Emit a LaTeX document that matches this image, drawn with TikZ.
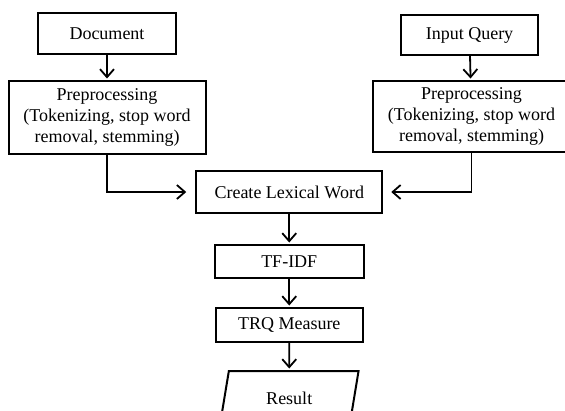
\documentclass[tikz,border=0pt]{standalone}
\usepackage{fontspec}
\setmainfont{Liberation Serif}
\usetikzlibrary{arrows.meta,positioning}
\usetikzlibrary{calc}
\usetikzlibrary{shapes.geometric}

\begin{document}
\begin{tikzpicture}[
      x=1pt, y=1pt,
      mybox/.style={
         rectangle,
         draw=black,
         line width=2pt,
         inner sep=0pt,
         outer sep=0pt,
         align=center,
         font=\fontsize{18}{21}\selectfont},
      myresult/.style={
         mybox,
         trapezium,
         trapezium left angle=75,
         trapezium right angle=105,
         trapezium stretches=true},
      myarrow/.style={-{Straight Barb[length=8pt,width=14pt]},
         line width=1.8pt, shorten >=2.5pt},
      node distance=27pt
      ]
      \useasboundingbox (0,0) rectangle (565,-410);
      \clip (0,0) rectangle (565,-410);

      \node[mybox,minimum width=138pt,minimum height=41pt] (doc) at (107,-33.5) {Document};
      \node[mybox,minimum width=137pt,minimum height=40pt] (query) at (469.5,-35) {Input Query};
      \node[mybox,minimum width=197pt,minimum height=73pt,below=of doc] (pre1)
         {Preprocessing\\(Tokenizing, stop word\\removal, stemming)};
      \node[mybox,minimum width=197pt,minimum height=71pt,below=26pt of query,xshift=2pt] (pre2)
         {Preprocessing\\(Tokenizing, stop word\\removal, stemming)};
      \node[mybox,minimum width=186pt,minimum height=42pt,
         below=18pt of $(pre1.south)!0.5!(pre2.south)$] (lex) {Create Lexical Word};
      \node[mybox,minimum width=149pt,minimum height=33pt,below=32pt of lex] (tfidf) {TF-IDF};
      \node[mybox,minimum width=147pt,minimum height=34pt,below=30pt of tfidf] (trq) {TRQ Measure};
      \node[myresult,minimum width=139pt,minimum height=54pt,below=29pt of trq] (result) {Result};

    \foreach \i/\j in {% start node/end node
      doc/pre1,
      query/pre2,
      lex/tfidf,
      tfidf/trq,
      trq/result}
       \draw [myarrow] (\i) -- (\j);

    \draw [myarrow,shorten >=10pt] (pre1.south) |- (lex.west);
    \draw [myarrow,shorten >=9pt] (pre2.south) |- (lex.east);

\end{tikzpicture}
\end{document}
